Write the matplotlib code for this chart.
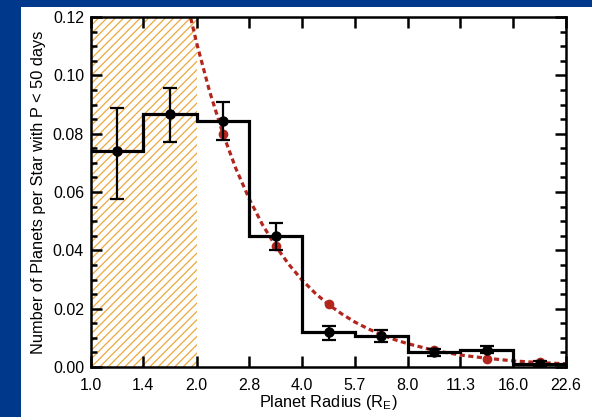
import matplotlib
matplotlib.use("Agg")
import matplotlib.pyplot as plt
from matplotlib.patches import Rectangle
from matplotlib.ticker import FixedLocator, MultipleLocator, NullLocator

# bins in planet radius (earth radii), log2 spaced
bin_edges = [1.0, 1.41, 2.0, 2.83, 4.0, 5.66, 8.0, 11.31, 16.0, 22.63]
tick_labels = ["1.0", "1.4", "2.0", "2.8", "4.0", "5.7", "8.0", "11.3", "16.0", "22.6"]
bin_centers = [1.19, 1.68, 2.38, 3.36, 4.76, 6.73, 9.51, 13.45, 19.03]

# occurrence per bin with error bars
occurrence = [0.0742, 0.0867, 0.0844, 0.0449, 0.0119, 0.0108, 0.0051, 0.0060, 0.0012]
err_low = [0.0167, 0.0095, 0.0066, 0.0049, 0.0025, 0.0023, 0.0013, 0.0013, 0.0007]
err_high = [0.0147, 0.0089, 0.0064, 0.0044, 0.0020, 0.0018, 0.0011, 0.0012, 0.0008]

# power law fit, evaluated at bin centers (red dots)
fit_x = [2.38, 3.36, 4.76, 6.73, 9.51, 13.45, 19.03]
fit_y = [0.0800, 0.0416, 0.0217, 0.0110, 0.0059, 0.0027, 0.0017]

# fit curve
curve_x = [1.90, 2.00, 2.18, 2.38, 2.59, 2.83, 3.08, 3.36, 3.67, 4.00, 4.36, 4.76,
           5.19, 5.66, 6.17, 6.73, 7.34, 8.00, 9.51, 11.31, 13.45, 16.0, 19.03, 22.63]
curve_y = [0.1225, 0.1112, 0.0944, 0.0799, 0.0680, 0.0575, 0.0489, 0.0415, 0.0351,
           0.0298, 0.0253, 0.0214, 0.0182, 0.0154, 0.0131, 0.0111, 0.0094, 0.0080,
           0.0057, 0.0041, 0.0030, 0.0021, 0.0015, 0.0011]

plt.rcParams['font.family'] = ['Liberation Sans', 'DejaVu Sans']
plt.rcParams['hatch.linewidth'] = 0.9

fig = plt.figure(figsize=(5.92, 4.17), dpi=100)
fig.patch.set_facecolor('#00388C')
# white panel behind the plot
fig.add_artist(Rectangle((21 / 592, 0), 1, (417 - 7) / 417, transform=fig.transFigure,
                         facecolor='white', edgecolor='none', zorder=-10))

ax = fig.add_axes([91 / 592, 50 / 417, (566 - 91) / 592, (367 - 17) / 417])
ax.set_facecolor('white')
ax.set_xscale('log', base=2)

# hatched region below 2 earth radii
ax.axvspan(bin_edges[0], bin_edges[2], facecolor='none', edgecolor='#ECA83C',
           hatch='////', linewidth=0, zorder=1)

ax.plot(curve_x, curve_y, color='#B3261E', lw=2.3, dashes=(1.6, 1.1), zorder=2)
ax.plot(fit_x, fit_y, 'o', color='#B3261E', ms=7, mec='none', zorder=3)

ax.stairs(occurrence, bin_edges, color='black', lw=2.3, baseline=None, zorder=4)
ax.errorbar(bin_centers, occurrence, yerr=[err_low, err_high], fmt='o', color='black',
            ms=6.5, elinewidth=1.6, capsize=5, capthick=1.6, zorder=5)

ax.set_xlim(bin_edges[0], bin_edges[-1])
ax.set_ylim(0, 0.12)
ax.xaxis.set_major_locator(FixedLocator(bin_edges))
ax.xaxis.set_minor_locator(NullLocator())
ax.set_xticklabels(tick_labels)
ax.yaxis.set_major_locator(MultipleLocator(0.02))
ax.yaxis.set_minor_locator(MultipleLocator(0.005))
ax.yaxis.set_major_formatter(matplotlib.ticker.FormatStrFormatter('%.2f'))

ax.tick_params(which='both', direction='in', top=True, right=True, width=1.8,
               labelsize=11.5, colors='black')
ax.tick_params(which='major', length=8)
ax.tick_params(axis='x', which='major', pad=8)
ax.tick_params(axis='y', which='major', pad=5)
ax.tick_params(which='minor', length=4)
for s in ax.spines.values():
    s.set_linewidth(1.8)

ax.set_xlabel(r'Planet Radius (R$_\mathregular{E}$)', fontsize=11.8, labelpad=0)
ax.set_ylabel('Number of Planets per Star with P < 50 days', fontsize=11.8, labelpad=5)

fig.savefig('out.png', dpi=100, facecolor=fig.get_facecolor())
